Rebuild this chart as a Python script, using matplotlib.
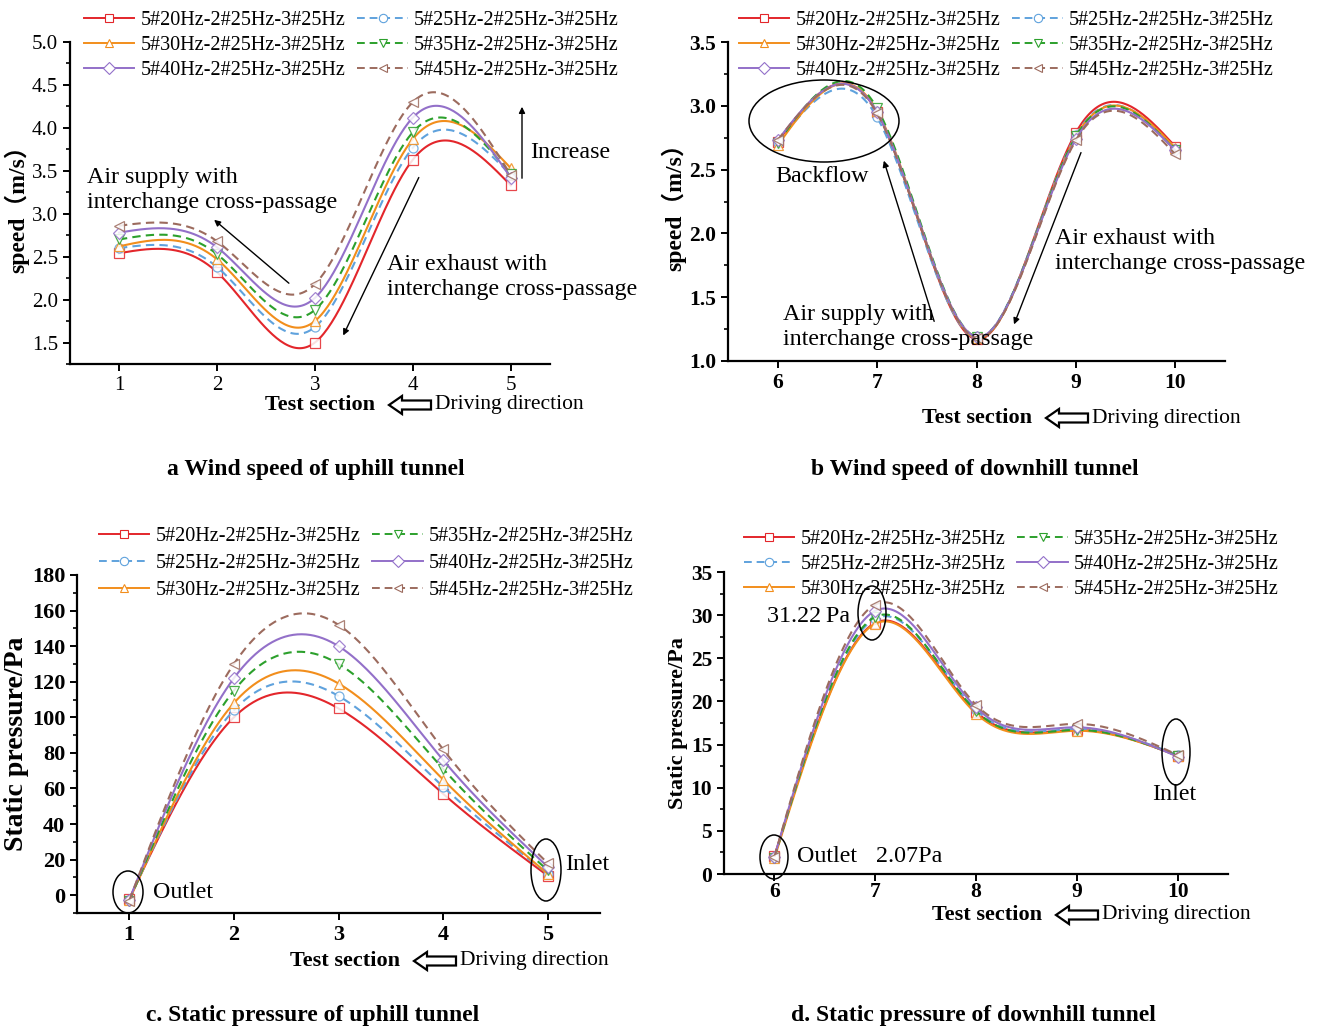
import numpy as np
import matplotlib
matplotlib.use('Agg')
import matplotlib.pyplot as plt
from matplotlib.ticker import AutoMinorLocator, MultipleLocator, FormatStrFormatter
from matplotlib.patches import Ellipse, Polygon, FancyArrowPatch

plt.rcParams['font.family'] = ['Liberation Serif', 'Noto Sans CJK SC', 'DejaVu Sans']

W, H = 1319, 1033

labels = ['5#20Hz-2#25Hz-3#25Hz', '5#25Hz-2#25Hz-3#25Hz', '5#30Hz-2#25Hz-3#25Hz',
          '5#35Hz-2#25Hz-3#25Hz', '5#40Hz-2#25Hz-3#25Hz', '5#45Hz-2#25Hz-3#25Hz']
colors = ['#e3262b', '#5fa2dd', '#f28e1c', '#2ca02c', '#9370c9', '#9c6b5e']
markers = ['s', 'o', '^', 'v', 'D', '<']
dashed = [False, True, False, True, False, True]

sec_up = [1, 2, 3, 4, 5]
sec_down = [6, 7, 8, 9, 10]

# a: wind speed uphill (m/s)
speed_up = [
    [2.54, 2.32, 1.50, 3.63, 3.33],
    [2.60, 2.38, 1.68, 3.77, 3.45],
    [2.62, 2.47, 1.75, 3.87, 3.53],
    [2.70, 2.53, 1.88, 3.95, 3.46],
    [2.78, 2.61, 2.02, 4.12, 3.42],
    [2.86, 2.68, 2.18, 4.30, 3.45],
]
# b: wind speed downhill (m/s)
speed_down = [
    [2.72, 2.95, 1.17, 2.79, 2.68],
    [2.71, 2.91, 1.18, 2.77, 2.66],
    [2.69, 2.96, 1.18, 2.76, 2.67],
    [2.71, 2.98, 1.19, 2.76, 2.65],
    [2.73, 2.95, 1.19, 2.74, 2.65],
    [2.73, 2.94, 1.18, 2.73, 2.62],
]
# c: static pressure uphill (Pa)
press_up = [
    [-2.0, 100, 105, 57, 11],
    [-2.5, 104, 112, 61, 12],
    [-2.8, 108, 119, 65, 12],
    [-3.0, 115, 130, 71, 14],
    [-2.5, 122, 140, 76, 16],
    [-3.0, 130, 152, 82, 18],
]
# d: static pressure downhill (Pa)
press_down = [
    [2.07, 29.1, 18.8, 16.7, 13.7],
    [1.9, 29.6, 19.0, 16.8, 13.8],
    [1.8, 29.0, 18.6, 16.6, 13.7],
    [1.9, 29.8, 18.9, 16.7, 13.7],
    [2.0, 30.5, 19.3, 17.0, 13.6],
    [2.0, 31.22, 19.6, 17.4, 13.8],
]


def natural_spline(x, y, n=200):
    # smooth connecting curve through the measured points (like Origin's spline line)
    x = np.asarray(x, float)
    y = np.asarray(y, float)
    k = len(x)
    h = np.diff(x)
    A = np.zeros((k, k))
    b = np.zeros(k)
    A[0, 0] = A[-1, -1] = 1
    for i in range(1, k - 1):
        A[i, i - 1] = h[i - 1]
        A[i, i] = 2 * (h[i - 1] + h[i])
        A[i, i + 1] = h[i]
        b[i] = 3 * ((y[i + 1] - y[i]) / h[i] - (y[i] - y[i - 1]) / h[i - 1])
    c = np.linalg.solve(A, b)
    xs = np.linspace(x[0], x[-1], n)
    idx = np.clip(np.searchsorted(x, xs) - 1, 0, k - 2)
    dx = xs - x[idx]
    hi = h[idx]
    bb = (y[idx + 1] - y[idx]) / hi - hi * (2 * c[idx] + c[idx + 1]) / 3
    dd = (c[idx + 1] - c[idx]) / (3 * hi)
    return xs, y[idx] + bb * dx + c[idx] * dx ** 2 + dd * dx ** 3


def px(x, y):
    return (x / W, 1 - y / H)


fig = plt.figure(figsize=(W / 100, H / 100), dpi=100)


def make_axes(rect, xs, data, ylim, ystep, xlim, bold, tick_fs, ylabel, ylab_fs,
              leg_pos, leg_order, xpad, lspace):
    ax = fig.add_axes(rect)
    handles = []
    for i in range(6):
        sx, sy = natural_spline(xs, data[i])
        ls = (0, (4, 2.5)) if dashed[i] else '-'
        ax.plot(sx, sy, color=colors[i], lw=1.5, ls=ls)
        ax.plot(xs, data[i], ls='none', marker=markers[i], ms=6.5,
                mfc='white', mec=colors[i], mew=0.9, alpha=0.85)
        hd, = ax.plot([], [], color=colors[i], lw=1.4, ls=ls, marker=markers[i],
                      ms=6, mfc='white', mec=colors[i], mew=0.8)
        handles.append(hd)
    ax.set_xlim(*xlim)
    ax.set_ylim(*ylim)
    ax.set_xticks(xs)
    ax.yaxis.set_major_locator(MultipleLocator(ystep))
    ax.yaxis.set_minor_locator(AutoMinorLocator(2))
    if ystep < 1:
        ax.yaxis.set_major_formatter(FormatStrFormatter('%.1f'))
    for s in ['top', 'right']:
        ax.spines[s].set_visible(False)
    for s in ['left', 'bottom']:
        ax.spines[s].set_linewidth(1.6)
    ax.tick_params(which='major', direction='out', length=5, width=1.4,
                   labelsize=tick_fs)
    ax.tick_params(which='minor', direction='out', length=3, width=1.2)
    ax.tick_params(axis='x', pad=xpad)
    for t in ax.get_xticklabels() + ax.get_yticklabels():
        t.set_fontweight('bold' if bold else 'normal')
    ax.set_ylabel(ylabel, fontsize=ylab_fs, fontweight='bold', labelpad=2)
    ax.legend([handles[j] for j in leg_order], [labels[j] for j in leg_order],
              ncol=2, loc='upper left', bbox_to_anchor=px(*leg_pos),
              bbox_transform=fig.transFigure, frameon=False, fontsize=14.5,
              handlelength=2.5, handletextpad=0.3, columnspacing=0.6,
              labelspacing=lspace, borderpad=0, borderaxespad=0)
    return ax


row_order = [0, 2, 4, 1, 3, 5]
col_order = [0, 1, 2, 3, 4, 5]

ax_a = make_axes([70 / W, 1 - 364 / H, 480 / W, 322 / H], sec_up, speed_up,
                 (1.25, 5.0), 0.5, (0.5, 5.4), False, 15, 'speed（m/s）', 17,
                 (84, 11), row_order, 4, 0.3)
ax_b = make_axes([728 / W, 1 - 361 / H, 497 / W, 319 / H], sec_down, speed_down,
                 (1.0, 3.5), 0.5, (5.5, 10.5), True, 15.5, 'speed（m/s）', 17,
                 (739, 11), row_order, 4, 0.3)
ax_c = make_axes([77 / W, 1 - 913 / H, 523 / W, 338 / H], sec_up, press_up,
                 (-10, 180), 20, (0.5, 5.5), True, 16, 'Static pressure/Pa', 20,
                 (99, 527), col_order, 4, 0.38)
ax_d = make_axes([724 / W, 1 - 874 / H, 504 / W, 302 / H], sec_down, press_down,
                 (0, 35), 5, (5.5, 10.5), True, 15.5, 'Static pressure/Pa', 16,
                 (744, 530), col_order, 1, 0.28)


def xlabel_row(xr, yc):
    fig.text(*px(xr, yc), 'Test section', ha='right', va='center',
             fontsize=16, fontweight='bold')
    x0 = xr + 14
    pts = [(x0, yc), (x0 + 13, yc - 9), (x0 + 13, yc - 4.5), (x0 + 42, yc - 4.5),
           (x0 + 42, yc + 4.5), (x0 + 13, yc + 4.5), (x0 + 13, yc + 9)]
    fig.add_artist(Polygon([px(*p) for p in pts], closed=True, fc='white',
                           ec='black', lw=1.6, transform=fig.transFigure))
    fig.text(*px(x0 + 46, yc), 'Driving direction', ha='left', va='center',
             fontsize=15.5)


xlabel_row(375, 405)
xlabel_row(1032, 418)
xlabel_row(400, 961)
xlabel_row(1042, 915)

titles = [(316, 470, 'a Wind speed of uphill tunnel'),
          (975, 470, 'b Wind speed of downhill tunnel'),
          (313, 1015, 'c. Static pressure of uphill tunnel'),
          (973, 1015, 'd. Static pressure of downhill tunnel')]
for x, y, s in titles:
    fig.text(*px(x, y), s, ha='center', va='center', fontsize=17, fontweight='bold')


def note(x, y, s, fs=17.3, ha='left'):
    fig.text(*px(x, y), s, ha=ha, va='center', fontsize=fs, linespacing=1.2)


def arrow(tail, head):
    fig.add_artist(FancyArrowPatch(px(*tail), px(*head), transform=fig.transFigure,
                                   arrowstyle='-|>', mutation_scale=9, lw=1.0,
                                   color='black'))


def ring(x, y, w, h):
    fig.add_artist(Ellipse(px(x, y), w / W, h / H, fill=False, ec='black',
                           lw=1.1, transform=fig.transFigure))


# panel a notes
note(87, 190, 'Air supply with\ninterchange cross-passage')
arrow((291, 285), (212, 218))
note(387, 277, 'Air exhaust with\ninterchange cross-passage')
arrow((420, 175), (342, 338))
note(530, 152, 'Increase')
arrow((522, 181), (522, 104))

# panel b notes
ring(824, 121, 150, 82)
note(775, 177, 'Backflow')
note(783, 327, 'Air supply with\ninterchange cross-passage')
arrow((935, 324), (883, 158))
note(1055, 251, 'Air exhaust with\ninterchange cross-passage')
arrow((1082, 150), (1013, 327))

# panel c notes
ring(128, 892, 30, 42)
note(153, 893, 'Outlet')
ring(546, 870, 30, 62)
note(565, 865, 'Inlet')

# panel d notes
ring(872, 613, 28, 54)
note(767, 616, '31.22\u2009Pa')
ring(774, 857, 28, 44)
note(797, 857, 'Outlet')
note(876, 857, '2.07Pa')
ring(1176, 752, 28, 66)
note(1152, 795, 'Inlet')

fig.savefig('out.png', dpi=100)
